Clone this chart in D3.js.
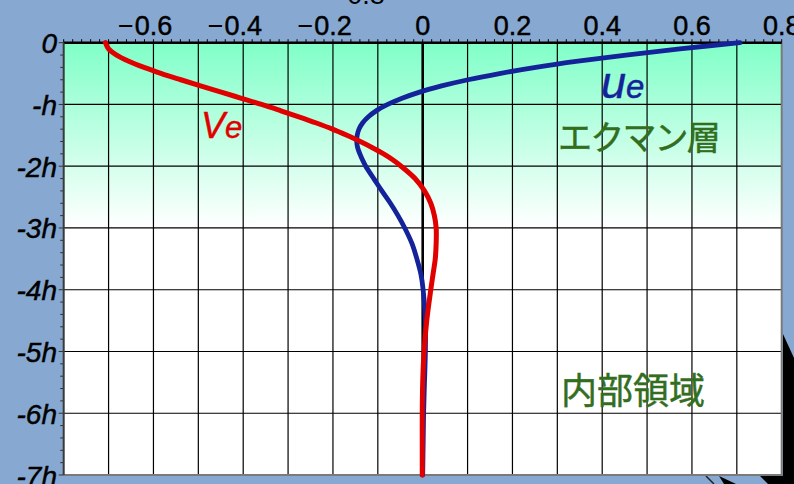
<!DOCTYPE html>
<html>
<head>
<meta charset="utf-8">
<script src="https://cdn.jsdelivr.net/npm/d3@7"></script>
<style>
  html, body { margin: 0; padding: 0; background: #87a8d0; overflow: hidden; }
  svg { display: block; }
</style>
</head>
<body>
<svg id="chart" width="794" height="484"></svg>
<script>
// Ekman layer velocity profile: depth in units of h, components u_e and v_e
const depth = [0, 0.1, 0.2, 0.3, 0.4, 0.5, 0.6, 0.7, 0.8, 0.9, 1.0, 1.1, 1.2, 1.3, 1.4, 1.5, 1.6, 1.7, 1.8, 1.9, 2.0,
               2.2, 2.4, 2.6, 2.8, 3.0, 3.25, 3.5, 3.75, 4.0, 4.5, 5.0, 5.5, 6.0, 6.5, 7.0];
const ue = [0.707, 0.573, 0.453, 0.346, 0.252, 0.171, 0.101, 0.042, -0.007, -0.046, -0.078, -0.103, -0.121, -0.134,
            -0.142, -0.146, -0.147, -0.145, -0.140, -0.134, -0.127, -0.109, -0.091, -0.072, -0.055, -0.040, -0.024,
            -0.013, -0.004, 0.001, 0.006, 0.006, 0.004, 0.002, 0.001, 0.000];
const ve = [-0.707, -0.700, -0.682, -0.655, -0.621, -0.582, -0.539, -0.495, -0.449, -0.404, -0.359, -0.317, -0.276,
            -0.237, -0.201, -0.169, -0.139, -0.112, -0.087, -0.066, -0.048, -0.017, 0.004, 0.018, 0.026, 0.030, 0.030,
            0.028, 0.023, 0.018, 0.009, 0.003, 0.000, -0.001, -0.001, -0.001];

const xTicks = [-0.6, -0.4, -0.2, 0, 0.2, 0.4, 0.6, 0.8];
const xGrid = [-0.7, -0.6, -0.5, -0.4, -0.3, -0.2, -0.1, 0.1, 0.2, 0.3, 0.4, 0.5, 0.6, 0.7];
const yTicks = [0, 1, 2, 3, 4, 5, 6, 7];
const yTickLabels = ["0", "-h", "-2h", "-3h", "-4h", "-5h", "-6h", "-7h"];
const layerLabel = "エクマン層";
const interiorLabel = "内部領域";

const svg = d3.select("#chart");
const x = d3.scaleLinear().domain([-0.8, 0.8]).range([63.7, 781.7]);
const y = d3.scaleLinear().domain([0, 7]).range([42.7, 475]);

const [x0, x1] = x.range();
const [y0, y1] = y.range();

// plot background: green wash fading to white through the Ekman layer
const defs = svg.append("defs");
const grad = defs.append("linearGradient").attr("id", "ekman")
  .attr("x1", 0).attr("y1", 0).attr("x2", 0).attr("y2", 1);
grad.append("stop").attr("offset", 0).attr("stop-color", "#80ffc8");
grad.append("stop").attr("offset", 1).attr("stop-color", "#ffffff");

svg.append("rect").attr("x", x0).attr("y", y0).attr("width", x1 - x0).attr("height", y1 - y0).attr("fill", "#ffffff");
svg.append("rect").attr("x", x0).attr("y", y0).attr("width", x1 - x0).attr("height", y(3) - y0).attr("fill", "url(#ekman)");

// dark shapes behind the lower right corner
svg.append("polygon").attr("points", "783,334 794,358 794,484 783,484").attr("fill", "#000");
svg.append("polygon").attr("points", "719,476 736,484 724,484").attr("fill", "#000");
svg.append("line").attr("x1", 706).attr("y1", 476).attr("x2", 714).attr("y2", 484)
  .attr("stroke", "#222").attr("stroke-width", 1.5);
svg.append("polygon").attr("points", "760,476 783,476 783,484 768,484").attr("fill", "#000");

// grid
const grid = svg.append("g");
grid.selectAll("line.v").data(xGrid).join("line")
  .attr("x1", d => x(d)).attr("x2", d => x(d)).attr("y1", y0).attr("y2", y1)
  .attr("stroke", "#000").attr("stroke-width", 1.2);
grid.selectAll("line.h").data(yTicks.slice(1, -1)).join("line")
  .attr("x1", x0).attr("x2", x1).attr("y1", d => y(d)).attr("y2", d => y(d))
  .attr("stroke", "#000").attr("stroke-width", 1.2);

// frame: grey right and bottom edges
svg.append("line").attr("x1", x1).attr("x2", x1).attr("y1", y0).attr("y2", y1 + 1)
  .attr("stroke", "#7a7a7a").attr("stroke-width", 2);
svg.append("line").attr("x1", x0).attr("x2", x1 + 1).attr("y1", y1).attr("y2", y1)
  .attr("stroke", "#7a7a7a").attr("stroke-width", 2);

// zero line
svg.append("line").attr("x1", x(0)).attr("x2", x(0)).attr("y1", y0).attr("y2", y1)
  .attr("stroke", "#000").attr("stroke-width", 2.6);

// top axis with fine ticks
const topAxis = svg.append("g");
topAxis.selectAll("line").data(d3.range(-40, 41).map(i => i * 0.02)).join("line")
  .attr("x1", d => x(d)).attr("x2", d => x(d)).attr("y1", y0).attr("y2", y0 - 3.5)
  .attr("stroke", "#000").attr("stroke-width", 1);
topAxis.append("line").attr("x1", x0).attr("x2", x1).attr("y1", y0).attr("y2", y0)
  .attr("stroke", "#000").attr("stroke-width", 2.6);

const labelFont = "'Liberation Sans', Arial, sans-serif";
const heavy = sel => sel.attr("stroke", "currentColor").attr("stroke-width", 0.45);

xTicks.forEach(v => {
  const t = topAxis.append("text")
    .attr("x", x(v)).attr("y", 35).attr("text-anchor", "middle")
    .attr("font-family", labelFont).attr("font-size", 27).attr("fill", "#000").style("color", "#000")
    .text(d3.format(".1~f")(Math.abs(v)));
  heavy(t);
  if (v < 0) {
    const w = t.node().getComputedTextLength();
    topAxis.append("text")
      .attr("x", x(v) - w / 2 - 1).attr("y", 35).attr("text-anchor", "end")
      .attr("font-family", labelFont).attr("font-size", 27).attr("fill", "#000")
      .text("−");
  }
});
// clipped heading above the axis
svg.append("text").attr("x", 366).attr("y", 4).attr("text-anchor", "middle")
  .attr("font-family", labelFont).attr("font-size", 27).attr("fill", "#000").text("0.8");

// left axis with minor ticks every 0.2h
const leftAxis = svg.append("g");
leftAxis.selectAll("line").data(d3.range(0, 36).map(i => i * 0.2)).join("line")
  .attr("x1", x0).attr("x2", (d, i) => x0 - (i % 5 === 0 ? 5 : 3.5))
  .attr("y1", d => y(d)).attr("y2", d => y(d))
  .attr("stroke", "#333").attr("stroke-width", 1);
leftAxis.append("line").attr("x1", x0).attr("x2", x0).attr("y1", y0).attr("y2", y1)
  .attr("stroke", "#3a3a3a").attr("stroke-width", 2);
leftAxis.selectAll("text").data(yTicks).join("text")
  .attr("x", 57).attr("y", d => y(d) + 10.5).attr("text-anchor", "end")
  .attr("font-family", labelFont).attr("font-style", "italic").attr("font-size", 28).attr("fill", "#000")
  .style("color", "#000").call(heavy)
  .text((d, i) => yTickLabels[i]);

// profiles
const pts = arr => depth.map((d, i) => [arr[i], d]);
const line = d3.line().x(d => x(d[0])).y(d => y(d[1])).curve(d3.curveCatmullRom.alpha(0.5));

svg.append("path").attr("d", line(pts(ue)))
  .attr("fill", "none").attr("stroke", "#15239a").attr("stroke-width", 4.8)
  .attr("stroke-linecap", "round").attr("stroke-linejoin", "round");
svg.append("path").attr("d", line(pts(ve)))
  .attr("fill", "none").attr("stroke", "#e00000").attr("stroke-width", 5)
  .attr("stroke-linecap", "round").attr("stroke-linejoin", "round");

// series labels
const ve_t = svg.append("text").attr("x", 201).attr("y", 138)
  .attr("font-family", labelFont).attr("font-style", "italic").attr("fill", "#e00000")
  .style("color", "#e00000").call(heavy);
ve_t.append("tspan").attr("font-size", 36).text("V");
ve_t.append("tspan").attr("font-size", 31).text("e");

const ue_t = svg.append("text").attr("x", 601).attr("y", 98)
  .attr("font-family", labelFont).attr("font-style", "italic").attr("fill", "#15239a")
  .style("color", "#15239a").call(heavy);
ue_t.append("tspan").attr("font-size", 45).text("u");
ue_t.append("tspan").attr("font-size", 33).text("e");

// region labels
const cjk = "'Noto Sans CJK JP', 'Noto Sans CJK SC', sans-serif";
svg.append("text").attr("x", 558).attr("y", 150)
  .attr("font-family", cjk).attr("font-size", 34).attr("letter-spacing", -1.8).attr("fill", "#326e1e")
  .style("color", "#326e1e").call(heavy)
  .text(layerLabel);
svg.append("text").attr("x", 561).attr("y", 404)
  .attr("font-family", cjk).attr("font-size", 36).attr("fill", "#326e1e")
  .style("color", "#326e1e").call(heavy)
  .text(interiorLabel);
</script>
</body>
</html>
